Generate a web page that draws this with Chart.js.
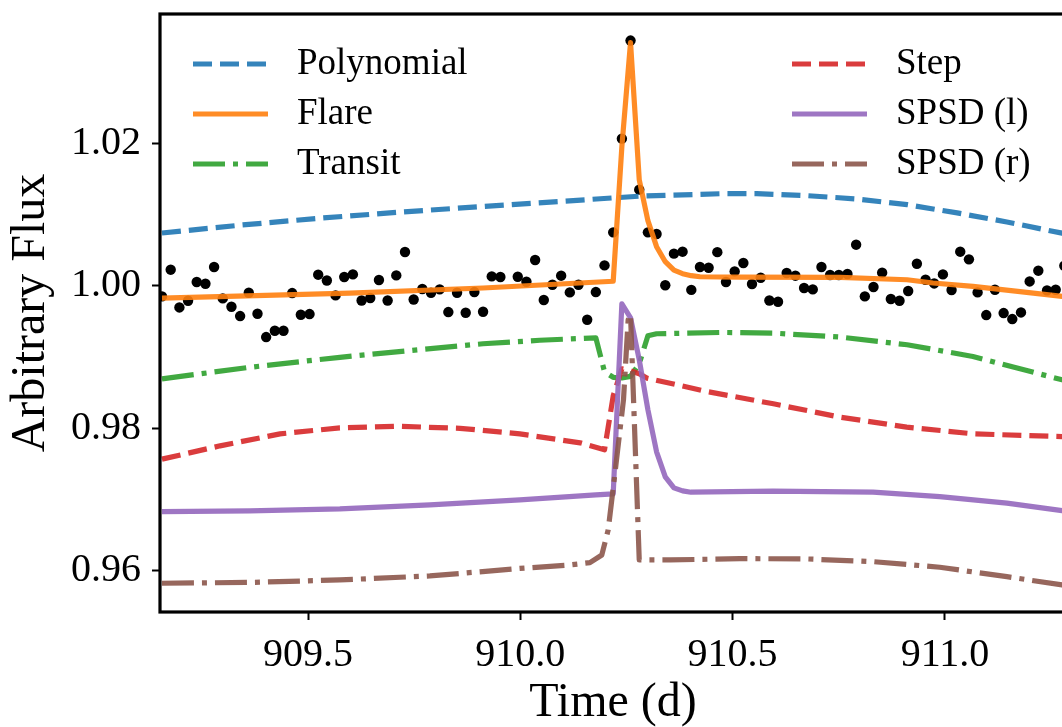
<!DOCTYPE html>
<html>
<head>
<meta charset="utf-8">
<title>Flare and detrending models</title>
<script src="https://cdn.jsdelivr.net/npm/chart.js@4/dist/chart.umd.min.js"></script>
<style>
  html, body { margin: 0; padding: 0; background: #fff; overflow: hidden; }
  canvas { display: block; }
</style>
</head>
<body>
<canvas id="lc" width="1075" height="727"></canvas>
<script>
// Long-cadence photometry around the flare (one cadence missing near 909.97)
const obsTime = [
  909.1562, 909.1766, 909.1971, 909.2175, 909.2379, 909.2584, 909.2788, 909.2992, 909.3197, 909.3401,
  909.3605, 909.3810, 909.4014, 909.4218, 909.4423, 909.4627, 909.4831, 909.5036, 909.5240, 909.5444,
  909.5649, 909.5853, 909.6057, 909.6262, 909.6466, 909.6671, 909.6875, 909.7079, 909.7284, 909.7488,
  909.7692, 909.7897, 909.8101, 909.8305, 909.8510, 909.8714, 909.8918, 909.9123, 909.9327, 909.9531,
  909.9940, 910.0144, 910.0349, 910.0553, 910.0757, 910.0962, 910.1166, 910.1370, 910.1575, 910.1779,
  910.1983, 910.2188, 910.2392, 910.2596, 910.2801, 910.3005, 910.3209, 910.3414, 910.3618, 910.3822,
  910.4027, 910.4231, 910.4435, 910.4640, 910.4844, 910.5048, 910.5253, 910.5457, 910.5661, 910.5866,
  910.6070, 910.6274, 910.6479, 910.6683, 910.6888, 910.7092, 910.7296, 910.7501, 910.7705, 910.7909,
  910.8114, 910.8318, 910.8522, 910.8727, 910.8931, 910.9135, 910.9340, 910.9544, 910.9748, 910.9953,
  911.0157, 911.0361, 911.0566, 911.0770, 911.0974, 911.1179, 911.1383, 911.1587, 911.1792, 911.1996,
  911.2200, 911.2405, 911.2609, 911.2813
];
const obsFlux = [
  0.99850, 1.00225, 0.99695, 0.99789, 1.00052, 1.00028, 1.00263, 0.99822, 0.99705, 0.99574,
  0.99902, 0.99607, 0.99279, 0.99368, 0.99368, 0.99897, 0.99593, 0.99602, 1.00155, 1.00074,
  0.99864, 1.00122, 1.00159, 0.99793, 0.99827, 1.00080, 0.99793, 1.00145, 1.00474, 0.99807,
  0.99954, 0.99902, 0.99948, 0.99630, 0.99902, 0.99621, 0.99911, 0.99635, 1.00131, 1.00122,
  1.00126, 1.00056, 1.00361, 0.99799, 1.00014, 1.00141, 0.99906, 1.00014, 0.99522, 0.99911,
  1.00285, 1.00749, 1.02065, 1.03442, 1.01349, 1.00749, 1.00726, 1.00007, 1.00450, 1.00478,
  0.99941, 1.00263, 1.00253, 1.00471, 1.00052, 1.00201, 1.00319, 1.00024, 1.00112, 0.99793,
  0.99775, 1.00178, 1.00141, 0.99968, 0.99948, 1.00263, 1.00150, 1.00150, 1.00164, 1.00576,
  0.99850, 0.99982, 1.00183, 0.99813, 0.99789, 0.99926, 1.00309, 1.00084, 1.00032, 1.00159,
  0.99940, 1.00478, 1.00370, 0.99906, 0.99588, 0.99944, 0.99616, 0.99532, 0.99625, 1.00060,
  1.00211, 0.99934, 0.99944, 1.00281
];

// Model curves
const polyTime = [909.156, 909.340, 909.528, 909.717, 909.905, 910.094, 910.282, 910.477, 910.557, 910.675, 910.793, 910.911, 911.029, 911.146, 911.276, 911.286];
const polyFlux = [1.00740, 1.00850, 1.00948, 1.01033, 1.01110, 1.01184, 1.01258, 1.01293, 1.01293, 1.01265, 1.01218, 1.01138, 1.01022, 1.00895, 1.00738, 1.00724];

const flareTime = [909.156, 909.599, 909.912, 910.2188, 910.2392, 910.2596, 910.2801, 910.3005, 910.3209, 910.3414, 910.3618, 910.3822, 910.4027, 910.4231, 910.517, 910.753, 910.911, 910.972, 911.066, 911.177, 911.276, 911.286];
const flareFlux = [0.99827, 0.99897, 0.99968, 1.00063, 1.01953, 1.03414, 1.01489, 1.00913, 1.00548, 1.00337, 1.00218, 1.00169, 1.00141, 1.00126, 1.00122, 1.00117, 1.00084, 1.00038, 0.99990, 0.99916, 0.99850, 0.99843];

const transitTime = [909.156, 909.363, 909.575, 909.771, 909.912, 910.046, 910.1779, 910.1983, 910.2188, 910.2392, 910.2596, 910.2801, 910.3005, 910.3209, 910.477, 910.595, 910.753, 910.911, 911.066, 911.276, 911.286];
const transitFlux = [0.98693, 0.98855, 0.98995, 0.99108, 0.99185, 0.99234, 0.99269, 0.98792, 0.98714, 0.98707, 0.98728, 0.98904, 0.99297, 0.99326, 0.99344, 0.99335, 0.99279, 0.99171, 0.99007, 0.98679, 0.98665];

const stepTime = [909.156, 909.293, 909.434, 909.575, 909.717, 909.858, 909.999, 910.141, 910.1983, 910.2188, 910.2392, 910.2596, 910.2801, 910.298, 910.439, 910.596, 910.753, 910.910, 911.067, 911.276, 911.286];
const stepFlux = [0.97565, 0.97752, 0.97920, 0.98005, 0.98026, 0.97998, 0.97920, 0.97794, 0.97696, 0.98454, 0.98834, 0.98806, 0.98764, 0.98703, 0.98515, 0.98342, 0.98155, 0.98015, 0.97920, 0.97882, 0.97881];

const spsdLTime = [909.156, 909.363, 909.575, 909.787, 909.999, 910.1779, 910.2188, 910.2392, 910.2596, 910.2801, 910.3005, 910.3209, 910.3414, 910.3618, 910.3822, 910.402, 910.595, 910.831, 910.988, 911.146, 911.276, 911.286];
const spsdLFlux = [0.96829, 0.96839, 0.96867, 0.96923, 0.96993, 0.97063, 0.97077, 0.99747, 0.99550, 0.98960, 0.98258, 0.97668, 0.97316, 0.97162, 0.97120, 0.97101, 0.97115, 0.97101, 0.97040, 0.96947, 0.96843, 0.96835];

const spsdRTime = [909.156, 909.363, 909.575, 909.787, 909.999, 910.117, 910.164, 910.192, 910.207, 910.223, 910.243, 910.254, 910.2596, 910.2801, 910.353, 910.517, 910.675, 910.831, 910.988, 911.146, 911.276, 911.286];
const spsdRFlux = [0.95823, 0.95834, 0.95869, 0.95925, 0.96031, 0.96080, 0.96112, 0.96220, 0.96572, 0.97372, 0.98398, 0.99522, 0.99593, 0.96150, 0.96150, 0.96168, 0.96164, 0.96126, 0.96047, 0.95915, 0.95799, 0.95785];

const xTicks = [909.5, 910.0, 910.5, 911.0];
const yTicks = [0.96, 0.98, 1.00, 1.02];

const DASHED = [19, 8];
const DASHDOT = [32, 8, 5, 8];

const models = [
  { label: 'Polynomial', t: polyTime, f: polyFlux, color: 'rgba(31,119,180,0.9)', dash: DASHED },
  { label: 'Flare', t: flareTime, f: flareFlux, color: 'rgba(255,127,14,0.9)', dash: [] },
  { label: 'Transit', t: transitTime, f: transitFlux, color: 'rgba(44,160,44,0.9)', dash: DASHDOT },
  { label: 'Step', t: stepTime, f: stepFlux, color: 'rgba(214,39,40,0.9)', dash: DASHED },
  { label: 'SPSD (l)', t: spsdLTime, f: spsdLFlux, color: 'rgba(148,103,189,0.9)', dash: [] },
  { label: 'SPSD (r)', t: spsdRTime, f: spsdRFlux, color: 'rgba(140,86,75,0.9)', dash: DASHDOT }
];

function pairs(t, f) {
  return t.map(function (x, i) { return { x: x, y: f[i] }; });
}

let datasets = [{
  label: 'Data',
  data: pairs(obsTime, obsFlux),
  pointRadius: 5.2,
  pointBackgroundColor: '#000',
  pointBorderWidth: 0,
  showLine: false,
  clip: 0,
  order: 10
}];

models.forEach(function (m, i) {
  datasets.push({
    label: m.label,
    data: pairs(m.t, m.f),
    showLine: true,
    pointRadius: 0,
    borderColor: m.color,
    borderWidth: 5.2,
    borderDash: m.dash,
    borderCapStyle: 'butt',
    borderJoinStyle: 'round',
    clip: 0,
    order: models.length - i
  });
});

// no extra room for half-labels at the axis ends
function noEndPadding(s) {
  s.paddingTop = 0;
  s.paddingBottom = 0;
  s.paddingLeft = 0;
  s.paddingRight = 0;
}

// axes box, drawn over the curves
const frame = {
  id: 'frame',
  afterDatasetsDraw(chart) {
    const a = chart.chartArea;
    const ctx = chart.ctx;
    ctx.save();
    ctx.strokeStyle = '#000';
    ctx.lineWidth = 3.2;
    ctx.strokeRect(a.left, a.top, a.right - a.left, a.bottom - a.top);
    ctx.restore();
  }
};

// two-column legend inside the axes
const legendBox = {
  id: 'legendBox',
  afterDraw(chart) {
    const a = chart.chartArea;
    const ctx = chart.ctx;
    ctx.save();
    ctx.font = '37px "Liberation Serif"';
    ctx.textBaseline = 'middle';
    ctx.fillStyle = '#000';
    models.forEach(function (m, i) {
      const x0 = a.left + (i < 3 ? 33 : 632);
      const y = a.top + 50 + (i % 3) * 50;
      ctx.strokeStyle = m.color;
      ctx.lineWidth = 5.2;
      ctx.lineCap = 'butt';
      ctx.setLineDash(m.dash);
      ctx.beginPath();
      ctx.moveTo(x0, y);
      ctx.lineTo(x0 + 75, y);
      ctx.stroke();
      ctx.setLineDash([]);
      ctx.fillText(m.label, x0 + 104, y);
    });
    ctx.restore();
  }
};

Chart.defaults.font.family = '"Liberation Serif", "Times New Roman", serif';
Chart.defaults.color = '#000';

new Chart(document.getElementById('lc'), {
  type: 'scatter',
  data: { datasets: datasets },
  options: {
    responsive: false,
    animation: false,
    devicePixelRatio: 1,
    layout: { padding: { left: 0, top: 14, right: 9, bottom: 0 } },
    plugins: {
      legend: { display: false },
      tooltip: { enabled: false }
    },
    scales: {
      x: {
        type: 'linear',
        min: 909.1514,
        max: 911.2852,
        afterBuildTicks: function (s) { s.ticks = xTicks.map(function (v) { return { value: v }; }); },
        afterFit: function (s) { s.height = 115; noEndPadding(s); },
        border: { display: false },
        grid: { drawOnChartArea: false, drawTicks: true, tickLength: 8, tickWidth: 2, tickColor: '#000' },
        ticks: {
          autoSkip: false, maxRotation: 0, padding: 11,
          font: { size: 40 },
          callback: function (v) { return v.toFixed(1); }
        },
        title: {
          display: true, text: 'Time (d)',
          font: { size: 48, lineHeight: 1 },
          padding: { top: 0, bottom: 0 }
        }
      },
      y: {
        type: 'linear',
        min: 0.95419,
        max: 1.03815,
        afterBuildTicks: function (s) { s.ticks = yTicks.map(function (v) { return { value: v }; }); },
        afterFit: function (s) { s.width = 160; noEndPadding(s); },
        border: { display: false },
        grid: { drawOnChartArea: false, drawTicks: true, tickLength: 8, tickWidth: 2, tickColor: '#000' },
        ticks: {
          autoSkip: false, padding: 11,
          font: { size: 40 },
          callback: function (v) { return v.toFixed(2); }
        },
        title: {
          display: true, text: 'Arbitrary Flux',
          font: { size: 48, lineHeight: 1 },
          padding: { top: 7, bottom: 0 }
        }
      }
    }
  },
  plugins: [frame, legendBox]
});
</script>
</body>
</html>
